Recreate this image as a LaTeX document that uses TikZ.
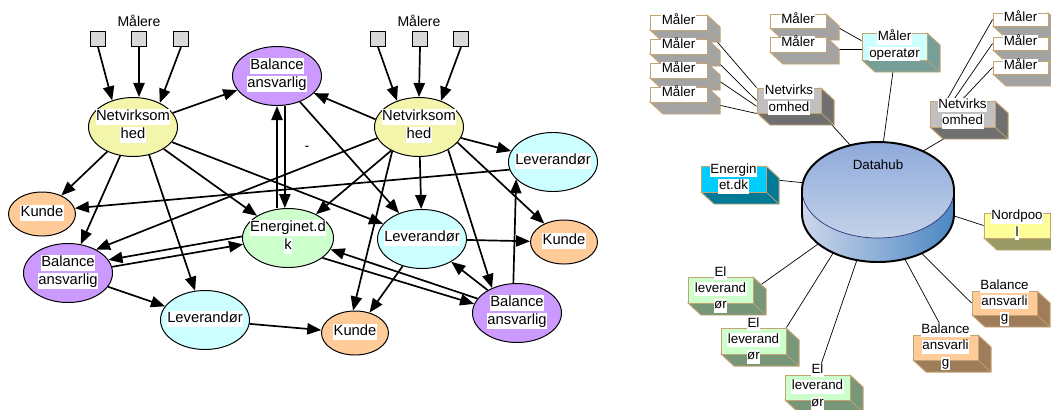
\documentclass[tikz,border=0pt]{standalone}
\usepackage{fontspec}
\setmainfont{Liberation Sans}
\usetikzlibrary{shapes.geometric,arrows.meta,backgrounds}

\definecolor{netcol}{RGB}{242,245,170}
\definecolor{balcol}{RGB}{204,153,255}
\definecolor{kuncol}{RGB}{255,204,153}
\definecolor{levcol}{RGB}{204,255,255}
\definecolor{engcol}{RGB}{204,255,204}
\definecolor{sqcol}{RGB}{217,217,217}
\definecolor{edgetan}{RGB}{196,164,116}
\definecolor{sidegray}{RGB}{163,163,163}
\definecolor{netgray}{RGB}{192,192,192}
\definecolor{netdark}{RGB}{112,112,112}
\definecolor{opfront}{RGB}{204,255,255}
\definecolor{opside}{RGB}{120,158,152}
\definecolor{enfront}{RGB}{0,204,255}
\definecolor{enside}{RGB}{0,122,150}
\definecolor{npfront}{RGB}{255,255,153}
\definecolor{npside}{RGB}{153,153,100}
\definecolor{elfront}{RGB}{204,255,204}
\definecolor{elside}{RGB}{120,150,120}
\definecolor{bafront}{RGB}{255,204,153}
\definecolor{baside}{RGB}{160,125,90}
\definecolor{hubtop}{RGB}{142,170,219}
\definecolor{hubtopb}{RGB}{196,210,233}
\definecolor{hubleft}{RGB}{205,215,235}
\definecolor{hubright}{RGB}{75,135,195}
\definecolor{hubline}{RGB}{50,50,120}

\tikzstyle{actor}=[ellipse, draw=black, line width=0.7pt, inner sep=0pt, minimum width=2.225cm, minimum height=1.475cm, font=\fontsize{10.5}{12.8}\selectfont]
\tikzstyle{smallactor}=[actor, minimum width=1.675cm, minimum height=1.1cm]
\tikzstyle{meter}=[rectangle, draw=black, fill=sqcol, line width=0.8pt, minimum size=0.375cm, inner sep=0pt]
\tikzstyle{annot}=[inner sep=0pt, font=\fontsize{10}{12}\selectfont]
\tikzstyle{link}=[draw, line width=1.2pt, -{Triangle[length=10pt,width=8pt]}]
\tikzstyle{wire}=[draw, line width=0.5pt]
\tikzstyle{face}=[rectangle, draw=edgetan, line width=0.7pt, inner sep=0pt, font=\fontsize{9.5}{11.7}\selectfont]

\newcommand{\wbg}[1]{{\setlength{\fboxsep}{0.4pt}\colorbox{white}{\rule[-0.25em]{0pt}{0.95em}#1}}}
\newcommand{\lbl}[1]{\makebox[0pt]{\raisebox{-0.35em}{\smash{\begin{tabular}{@{}c@{}}#1\end{tabular}}}}}
\newcommand{\solidbox}[8]
{
  \filldraw[fill=#7, draw=edgetan, line width=0.7pt] (#2+#4,#3) -- ++(13,12) -- ++(0,#5) -- ++(-#4,0) -- (#2,#3+#5) -- cycle;
  \draw[edgetan, line width=0.5pt] (#2+#4,#3+#5) -- ++(13,12);
  \node[face, fill=#6, minimum width=#4*0.025cm, minimum height=#5*0.025cm](#1) at (#2+#4/2,#3+#5/2){\lbl{#8}};
}

\begin{document}
\begin{tikzpicture}[x=0.025cm, y=-0.025cm]
	\useasboundingbox (0,0) rectangle (1051,409);

	% left: actors
	\node[annot] (mal1) at (139,21) {Målere};
	\node[annot] (mal2) at (419,21) {Målere};
	\node[meter] (sq1) at (98,39) {};
	\node[meter] (sq2) at (139,39) {};
	\node[meter] (sq3) at (181,39) {};
	\node[meter] (sq4) at (378,39) {};
	\node[meter] (sq5) at (420,39) {};
	\node[meter] (sq6) at (461,39) {};

	\node[actor, fill=netcol] (n1) at (133,127) {\lbl{\wbg{Netvirksom}\\\wbg{hed}}};
	\node[actor, fill=balcol] (b1) at (277,76) {\lbl{\wbg{Balance}\\\wbg{ansvarlig}}};
	\node[actor, fill=netcol] (n2) at (419,127) {\lbl{\wbg{Netvirksom}\\\wbg{hed}}};
	\node[actor, fill=levcol] (l1) at (553,162) {\lbl{\wbg{Leverandør}}};
	\node[smallactor, fill=kuncol] (k1) at (42,214) {\lbl{\wbg{Kunde}}};
	\node[actor, fill=balcol] (b2) at (68,273) {\lbl{\wbg{Balance}\\\wbg{ansvarlig}}};
	\node[actor, fill=engcol, minimum width=2.275cm] (eng) at (288,238) {\lbl{\wbg{Energinet.d}\\\wbg{k}}};
	\node[actor, fill=levcol] (l2) at (422,239) {\lbl{\wbg{Leverandør}}};
	\node[smallactor, fill=kuncol] (k2) at (564,242) {\lbl{\wbg{Kunde}}};
	\node[actor, fill=levcol] (l3) at (205,320) {\lbl{\wbg{Leverandør}}};
	\node[smallactor, fill=kuncol] (k3) at (355,333) {\lbl{\wbg{Kunde}}};
	\node[actor, fill=balcol] (b3) at (517,313) {\lbl{\wbg{Balance}\\\wbg{ansvarlig}}};
	\node[annot] (dash) at (307,148) {-};

	% left: arrows
	\draw[link] (sq1.south) -- (n1.128);
	\draw[link] (sq2.south) -- (sq2.south |- n1.north);
	\draw[link] (sq3.south) -- (n1.42);
	\draw[link] (sq4.south) -- (n2.130);
	\draw[link] (sq5.south) -- (n2.north);
	\draw[link] (sq6.south) -- (n2.50);
	\draw[link] (n1) -- (b1);
	\draw[link] (n1) -- (k1);
	\draw[link] (n1) -- (b2);
	\draw[link] (n1.300) -- (l3);
	\draw[link] (n1) -- (eng);
	\draw[link] (n1) -- (l2);
	\draw[link] (n2.170) -- (b1.335);
	\draw[link] (n2) -- (l1);
	\draw[link] (n2) -- (l2);
	\draw[link] (n2) -- (eng);
	\draw[link] (n2.195) -- (b2.40);
	\draw[link] (n2.222) -- (k3.95);
	\draw[link] (n2.322) -- (b3.135);
	\draw[link] (n2.338) -- (k2);
	\draw[link] (l1.190) -- (k1.10);
	\draw[link] (b1.south -| eng.96) -- (eng.96);
	\draw[link] (b1.south |- eng.north) -- (b1.south);
	\draw[link] (b1) -- (l2);
	\draw[link] (eng.178) -- (b2.18);
	\draw[link] (b2.8) -- (eng.188);
	\draw[link] (b2) -- (l3);
	\draw[link] (l3) -- (k3);
	\draw[link] (l2) -- (k2);
	\draw[link] (l2) -- (k3);
	\draw[link] (b3) -- (l2);
	\draw[link] (b3.97) -- (l1.205);
	\draw[link] (b3.160) -- (eng.345);
	\draw[link] (eng.330) -- (b3.168);

	% right: datahub
	\shade[left color=hubleft, right color=hubright] (802,190) -- (802,214) arc[start angle=180, end angle=0, x radius=76, y radius=48] -- (954,190) arc[start angle=0, end angle=180, x radius=76, y radius=48] -- cycle;
	\shade[top color=hubtop, bottom color=hubtopb] (878,190) ellipse [x radius=76, y radius=48];
	\draw[hubline, line width=0.5pt] (954,190) arc[start angle=0, end angle=180, x radius=76, y radius=48];
	\draw[line width=1.4pt] (802,214) -- (802,190) arc[start angle=180, end angle=360, x radius=76, y radius=48] -- (954,214) arc[start angle=0, end angle=180, x radius=76, y radius=48] -- cycle;
	\node[ellipse, minimum width=3.7cm, minimum height=2.85cm, inner sep=0pt] (hub) at (878,202) {};
	\node[face, draw=none] (hubtxt) at (878,165) {Datahub};

	\solidbox{ml1}{650}{15}{57}{15}{white}{sidegray}{\wbg{Måler}}
	\solidbox{ml2}{650}{39}{57}{15}{white}{sidegray}{\wbg{Måler}}
	\solidbox{ml3}{650}{63}{57}{15}{white}{sidegray}{\wbg{Måler}}
	\solidbox{ml4}{650}{87}{57}{15}{white}{sidegray}{\wbg{Måler}}
	\solidbox{nvl}{757}{88}{64}{25}{netgray}{netdark}{\wbg{Netvirks}\\\wbg{omhed}}
	\solidbox{mt1}{770}{14}{56}{14}{white}{sidegray}{\wbg{Måler}}
	\solidbox{mt2}{770}{37}{56}{15}{white}{sidegray}{\wbg{Måler}}
	\solidbox{mop}{862}{33}{65}{27}{opfront}{opside}{\wbg{Måler}\\\wbg{operatør}}
	\solidbox{mr1}{993}{13}{55}{13}{white}{sidegray}{\wbg{Måler}}
	\solidbox{mr2}{993}{37}{55}{13}{white}{sidegray}{\wbg{Måler}}
	\solidbox{mr3}{993}{61}{55}{13}{white}{sidegray}{\wbg{Måler}}
	\solidbox{nvr}{930}{101}{65}{26}{netgray}{netdark}{\wbg{Netvirks}\\\wbg{omhed}}
	\solidbox{en}{701}{166}{65}{26}{enfront}{enside}{\wbg{Energin}\\\wbg{et.dk}}
	\solidbox{np}{984}{213}{66}{25}{npfront}{npside}{\wbg{Nordpoo}\\\wbg{l}}
	\solidbox{el1}{688}{277}{65}{26}{elfront}{elside}{\wbg{El}\\\wbg{leverand}\\\wbg{ør}}
	\solidbox{el2}{721}{328}{65}{26}{elfront}{elside}{\wbg{El}\\\wbg{leverand}\\\wbg{ør}}
	\solidbox{el3}{785}{375}{65}{25}{elfront}{elside}{\wbg{El}\\\wbg{leverand}\\\wbg{ør}}
	\solidbox{ba1}{913}{335}{65}{25}{bafront}{baside}{\wbg{Balance}\\\wbg{ansvarli}\\\wbg{g}}
	\solidbox{ba2}{972}{291}{65}{24}{bafront}{baside}{\wbg{Balance}\\\wbg{ansvarli}\\\wbg{g}}

	% right: wires, kept behind the boxes
	\begin{pgfonlayer}{background}
	\draw[wire] (ml1.south east) -- (nvl.north west);
	\draw[wire] (ml2.-10) -- (nvl.west);
	\draw[wire] (ml3.-5) -- (nvl.190);
	\draw[wire] (ml4.south east) -- (nvl.south west);
	\draw[wire] (nvl.south east) -- (hub.115);
	\draw[wire] (mt1.east) -- (mop.170);
	\draw[wire] (mt2.-10) -- (mt2.-10 -| mop.west);
	\draw[wire] (mop.south) -- (hub.85);
	\draw[wire] (mr1.west) -- (nvr.140);
	\draw[wire] (mr2.west) -- (nvr.125);
	\draw[wire] (mr3.west) -- (nvr.95);
	\draw[wire] (nvr.south) -- (hub.50);
	\draw[wire] (en.east) -- (hub.165);
	\draw[wire] (np.west) -- (hub.-10);
	\draw[wire] (el1.east) -- (hub.215);
	\draw[wire] (el2.north east) -- (hub.228);
	\draw[wire] (el3.north) -- (hub.250);
	\draw[wire] (ba1.north) -- (hub.295);
	\draw[wire] (ba2.west) -- (hub.310);
	\end{pgfonlayer}

\end{tikzpicture}
\end{document}
